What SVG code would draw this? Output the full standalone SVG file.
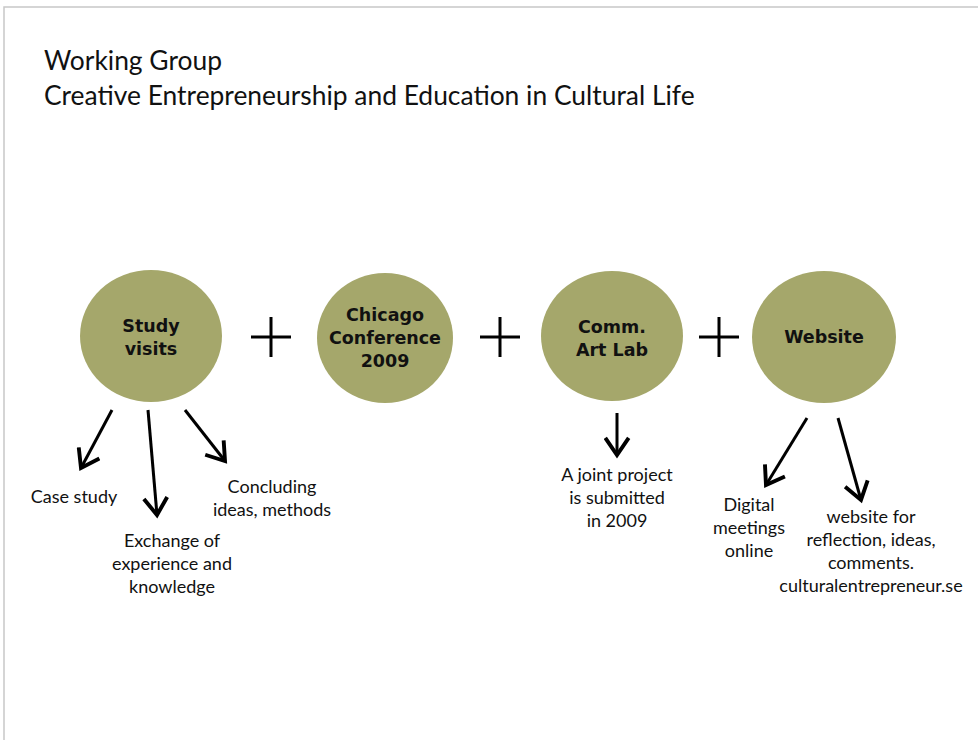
<svg xmlns="http://www.w3.org/2000/svg" width="978" height="740" viewBox="0 0 978 740">
<style>
.title{font-family:Lato,"Open Sans","Liberation Sans",sans-serif;font-size:26.4px;fill:#111}
.node{fill:#a5a76b}
.nl{font-family:"DejaVu Sans","Liberation Sans",sans-serif;font-weight:bold;font-size:17.5px;fill:#111;text-anchor:middle}
.lbl{font-family:Lato,"Liberation Sans",sans-serif;font-size:18px;fill:#111;text-anchor:middle}
.arr{stroke:#000;stroke-width:3;fill:none;marker-end:url(#ah)}
.plus{stroke:#000;stroke-width:3}
</style>
<defs>
<marker id="ah" markerWidth="9" markerHeight="9" refX="6.5" refY="4.5" orient="auto" markerUnits="strokeWidth" viewBox="0 0 9 9">
<path d="M0.8,0.6 L6.5,4.5 L0.8,8.4" fill="none" stroke="#000" stroke-width="1.3"/>
</marker>
</defs>
<rect width="978" height="740" fill="#fff"/>
<path d="M4,740 V7 H978" fill="none" stroke="#c8c8c8" stroke-width="1.5"/>
<g id="title">
<text class="title" x="44" y="70">Working Group</text>
<text class="title" x="44" y="105">Creative Entrepreneurship and Education in Cultural Life</text>
</g>
<g id="study-visits">
<ellipse class="node" cx="151" cy="336" rx="71" ry="66"/>
<text class="nl" x="151" y="332">Study</text>
<text class="nl" x="151" y="355">visits</text>
</g>
<g id="chicago">
<ellipse class="node" cx="385" cy="338" rx="68" ry="65"/>
<text class="nl" x="385" y="321">Chicago</text>
<text class="nl" x="385" y="344">Conference</text>
<text class="nl" x="385" y="367">2009</text>
</g>
<g id="comm-art-lab">
<ellipse class="node" cx="612" cy="336" rx="71" ry="65"/>
<text class="nl" x="612" y="333">Comm.</text>
<text class="nl" x="612" y="356">Art Lab</text>
</g>
<g id="website">
<ellipse class="node" cx="824" cy="337" rx="72" ry="66"/>
<text class="nl" x="824" y="343">Website</text>
</g>
<g id="plus-signs">
<path class="plus" d="M251,337 H291 M271,317 V357"/>
<path class="plus" d="M480,337 H520 M500,317 V357"/>
<path class="plus" d="M699,337 H739 M719,317 V357"/>
</g>
<g id="connectors">
<line class="arr" x1="112" y1="410" x2="81" y2="468"/>
<line class="arr" x1="148" y1="410" x2="157" y2="515"/>
<line class="arr" x1="185" y1="410" x2="225" y2="461"/>
<line class="arr" x1="617" y1="413" x2="617" y2="455"/>
<line class="arr" x1="807" y1="418" x2="766" y2="485"/>
<line class="arr" x1="838" y1="418" x2="861" y2="500"/>
</g>
<g id="case-study"><text class="lbl" x="74" y="503">Case study</text></g>
<g id="exchange">
<text class="lbl" x="172" y="547">Exchange of</text>
<text class="lbl" x="172" y="570">experience and</text>
<text class="lbl" x="172" y="593">knowledge</text>
</g>
<g id="concluding">
<text class="lbl" x="272" y="493">Concluding</text>
<text class="lbl" x="272" y="516">ideas, methods</text>
</g>
<g id="joint-project">
<text class="lbl" x="617" y="481">A joint project</text>
<text class="lbl" x="617" y="504">is submitted</text>
<text class="lbl" x="617" y="527">in 2009</text>
</g>
<g id="digital">
<text class="lbl" x="749" y="511">Digital</text>
<text class="lbl" x="749" y="534">meetings</text>
<text class="lbl" x="749" y="557">online</text>
</g>
<g id="website-for">
<text class="lbl" x="871" y="523">website for</text>
<text class="lbl" x="871" y="546">reflection, ideas,</text>
<text class="lbl" x="871" y="569">comments.</text>
<text class="lbl" x="871" y="592">culturalentrepreneur.se</text>
</g>
</svg>
